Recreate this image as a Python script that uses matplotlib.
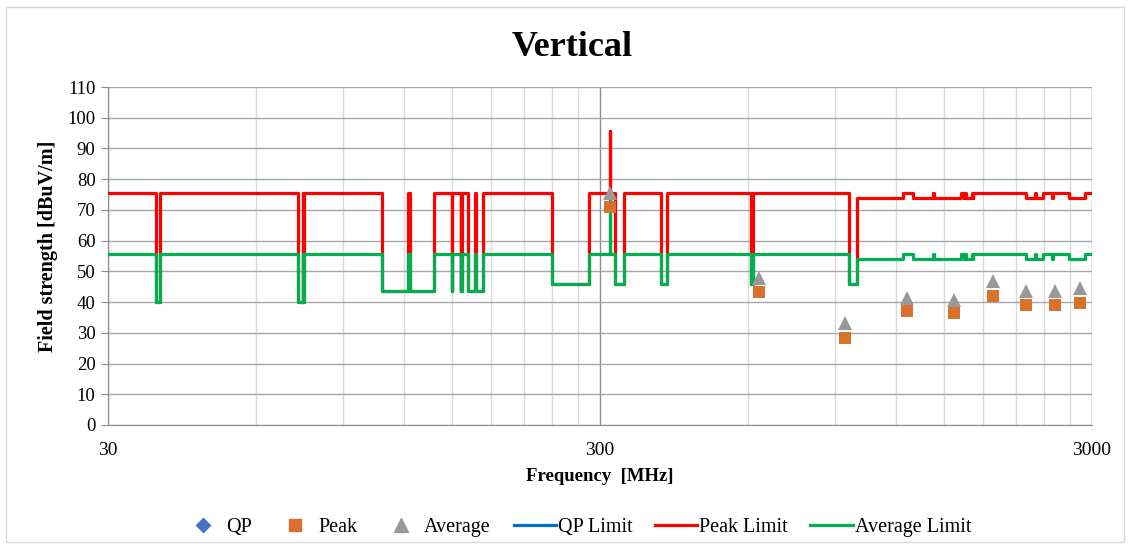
import matplotlib
matplotlib.use("Agg")
import matplotlib.pyplot as plt
from matplotlib.lines import Line2D
from matplotlib.patches import Rectangle
from matplotlib.ticker import FixedLocator, NullFormatter

plt.rcParams['font.family'] = ['Liberation Serif', 'DejaVu Serif']

# band edges of the limit lines [MHz]
band_edges = [30, 37.5, 38.25, 73, 74.6, 74.8, 75.2, 108, 121.94, 123,
              138, 149.9, 150.05, 156.52475, 156.52525, 156.7, 156.9, 162.0125, 167.17, 167.72,
              173.2, 240, 285, 315, 315, 322, 335.4, 399.9, 410, 608,
              614, 960, 1000, 1240, 1300, 1427, 1435, 1626.5, 1645.5, 1646.5,
              1660, 1710, 1718.8, 1722.2, 2200, 2300, 2310, 2390, 2483.5, 2500,
              2690, 2900, 3000]

# limit level for each band [dBuV/m]
peak_limit = [75.6, 40, 75.6, 40, 75.6, 40, 75.6, 43.5, 75.6, 43.5,
              75.6, 43.5, 75.6, 43.5, 75.6, 43.5, 75.6, 43.5, 75.6, 43.5,
              75.6, 46, 75.6, 95.6, 75.6, 46, 75.6, 46, 75.6, 46,
              75.6, 46, 74, 75.6, 74, 75.6, 74, 75.6, 74, 75.6,
              74, 75.6, 74, 75.6, 74, 75.6, 74, 75.6, 74, 75.6,
              74, 75.6]
avg_limit = [55.6, 40, 55.6, 40, 55.6, 40, 55.6, 43.5, 55.6, 43.5,
             55.6, 43.5, 55.6, 43.5, 55.6, 43.5, 55.6, 43.5, 55.6, 43.5,
             55.6, 46, 55.6, 75.6, 55.6, 46, 55.6, 46, 55.6, 46,
             55.6, 46, 54, 55.6, 54, 55.6, 54, 55.6, 54, 55.6,
             54, 55.6, 54, 55.6, 54, 55.6, 54, 55.6, 54, 55.6,
             54, 55.6]

# measured emissions
meas_freq = [315, 630, 945, 1260, 1575, 1890, 2205, 2520, 2835]
peak_vals = [71.0, 43.4, 28.3, 37.0, 36.3, 42.0, 39.2, 39.2, 39.6]
avg_vals = [75.6, 47.9, 33.3, 41.3, 40.8, 47.0, 43.6, 43.7, 44.7]
qp_freq = []
qp_vals = []


def steps(edges, levels):
    xs, ys = [], []
    for i, lvl in enumerate(levels):
        xs += [edges[i], edges[i + 1]]
        ys += [lvl, lvl]
    return xs, ys


fig = plt.figure(figsize=(11.3, 5.49), dpi=100)
ax = fig.add_axes([0.0956, 0.2259, 0.8708, 0.6156])

fig.patches.append(Rectangle((0.005, 0.012), 0.99, 0.975, transform=fig.transFigure,
                             fill=False, edgecolor='#d9d9d9', linewidth=1))

ax.set_xscale('log')
ax.set_xlim(30, 3000)
ax.set_ylim(0, 110)

# gridlines
ax.xaxis.set_major_locator(FixedLocator([30, 300, 3000]))
ax.xaxis.set_major_formatter(plt.FuncFormatter(lambda v, p: '%d' % v))
minor = [30 * k for k in range(2, 10)] + [300 * k for k in range(2, 10)]
ax.xaxis.set_minor_locator(FixedLocator(minor))
ax.xaxis.set_minor_formatter(NullFormatter())
ax.set_yticks(range(0, 111, 10))
ax.grid(which='major', axis='y', color='#a6a6a6', linewidth=1)
ax.grid(which='minor', axis='x', color='#d9d9d9', linewidth=1)
ax.grid(which='major', axis='x', color='#8c8c8c', linewidth=1)
ax.set_axisbelow(True)

for s in ['top', 'right']:
    ax.spines[s].set_visible(False)
for s in ['left', 'bottom']:
    ax.spines[s].set_color('#8c8c8c')
ax.tick_params(axis='y', length=5, color='#8c8c8c', labelsize=13.5, pad=4)
ax.tick_params(axis='x', which='major', length=0, labelsize=14, pad=12)
ax.tick_params(axis='x', which='minor', length=0)

px, py = steps(band_edges, peak_limit)
gx, gy = steps(band_edges, avg_limit)
ax.plot(px, py, color='#ff0000', linewidth=2.3, zorder=3)
ax.plot(gx, gy, color='#00b050', linewidth=2.3, zorder=4)

ax.plot(qp_freq, qp_vals, 'D', color='#4472c4', markersize=7, zorder=5)
ax.plot(meas_freq, peak_vals, 's', color='#d9702b', markersize=9, markeredgewidth=0, zorder=5)
ax.plot(meas_freq, avg_vals, '^', color='#999999', markersize=10, markeredgewidth=0, zorder=6)

fig.text(0.506, 0.913, 'Vertical', fontsize=26, fontweight='bold', ha='center', va='center')
ax.set_xlabel('Frequency  [MHz]', fontsize=13.5, fontweight='bold', labelpad=7)
ax.set_ylabel('Field strength [dBuV/m]', fontsize=14.5, fontweight='bold', labelpad=8)
ax.yaxis.set_label_coords(-0.051, 0.53)

handles = [
    Line2D([], [], linestyle='none', marker='D', color='#4472c4', markersize=7),
    Line2D([], [], linestyle='none', marker='s', color='#d9702b', markersize=9),
    Line2D([], [], linestyle='none', marker='^', color='#999999', markersize=10),
    Line2D([], [], color='#0070c0', linewidth=2.3),
    Line2D([], [], color='#ff0000', linewidth=2.3),
    Line2D([], [], color='#00b050', linewidth=2.3),
]
labels = ['QP', 'Peak', 'Average', 'QP Limit', 'Peak Limit', 'Average Limit']
fig.legend(handles, labels, loc='center', bbox_to_anchor=(0.51, 0.04), ncol=6,
           frameon=False, fontsize=14.5, handlelength=2.1, handletextpad=0.1,
           columnspacing=1.12)

fig.savefig('out.png', dpi=100)
